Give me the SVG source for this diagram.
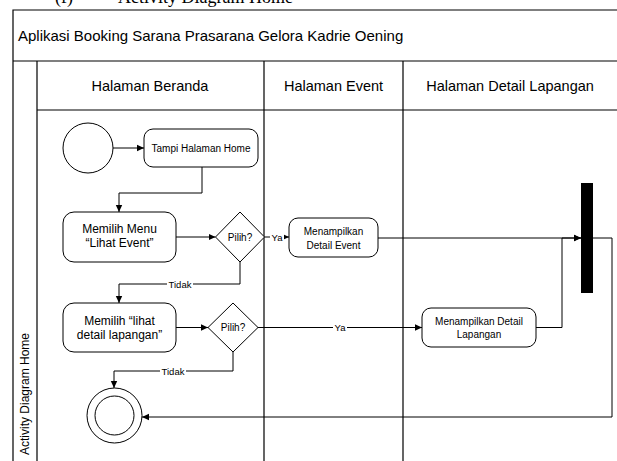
<svg xmlns="http://www.w3.org/2000/svg" width="617" height="461" viewBox="0 0 617 461">
<defs>
<marker id="arr" markerUnits="userSpaceOnUse" markerWidth="8" markerHeight="8" viewBox="0 0 8 8" refX="7" refY="4" orient="auto">
<path d="M0,0.8 L7,4 L0,7.2 Z" fill="#000"/>
</marker>
<style>
.frame{fill:none;stroke:#000;stroke-width:1.2}
.node{fill:#fff;stroke:#000;stroke-width:1}
.edge{fill:none;stroke:#000;stroke-width:1}
.t{font-family:"Liberation Sans",Arial,sans-serif;fill:#000;text-anchor:middle;dominant-baseline:central}
.s10{font-size:10px}
.s12{font-size:12px}
.s9{font-size:9.5px}
.hdr{font-size:14.5px}
.lbl{fill:#fff;stroke:none}
</style>
</defs>
<rect width="617" height="461" fill="#fff"/>
<text x="55" y="3" style="font-family:'Liberation Serif','Times New Roman',serif;font-size:18px">(f)<tspan x="118">Activity Diagram Home</tspan></text>
<g id="pool">
<path class="frame" d="M13,461 V10 H620 M13,61 H620 M37,61 V461 M37,110 H620 M264,61 V461 M403,61 V461"/>
<text class="t" x="18" y="35" style="font-size:15px;text-anchor:start">Aplikasi Booking Sarana Prasarana Gelora Kadrie Oening</text>
<text class="t hdr" x="150" y="86">Halaman Beranda</text>
<text class="t hdr" x="333.5" y="86">Halaman Event</text>
<text class="t hdr" x="510" y="86">Halaman Detail Lapangan</text>
<text style="font-family:'Liberation Sans',Arial,sans-serif;font-size:12px;text-anchor:end" transform="translate(29,333) rotate(-90)">Activity Diagram Home</text>
</g>
<g id="connectors">
<path class="edge" marker-end="url(#arr)" d="M113,148 H144"/>
<path class="edge" marker-end="url(#arr)" d="M202,167 V193 H119 V212"/>
<path class="edge" marker-end="url(#arr)" d="M176,237 H215.5"/>
<path class="edge" marker-end="url(#arr)" d="M264.5,237 H289"/>
<path class="edge" marker-end="url(#arr)" d="M240,262 V284 H119 V303"/>
<path class="edge" marker-end="url(#arr)" d="M176,327.5 H208"/>
<path class="edge" marker-end="url(#arr)" d="M258,327.5 H422"/>
<path class="edge" marker-end="url(#arr)" d="M233,352 V371 H114 V388"/>
<path class="edge" marker-end="url(#arr)" d="M378,238 H581"/>
<path class="edge" marker-end="url(#arr)" d="M536,327.5 H562 V238 H581"/>
<path class="edge" marker-end="url(#arr)" d="M593,238 H612 V417 H142"/>
<rect class="lbl" x="270" y="231" width="14" height="12"/>
<text class="t s9" x="277" y="237">Ya</text>
<rect class="lbl" x="167" y="278" width="26" height="12"/>
<text class="t s9" x="180" y="284">Tidak</text>
<rect class="lbl" x="333" y="321.5" width="14" height="12"/>
<text class="t s9" x="340" y="327.5">Ya</text>
<rect class="lbl" x="160" y="365" width="26" height="12"/>
<text class="t s9" x="173" y="371">Tidak</text>
</g>
<g id="start">
<circle class="node" cx="88" cy="148" r="25"/>
</g>
<g id="tampi-home">
<rect class="node" x="144" y="129" width="114" height="38" rx="9"/>
<text class="t s10" x="201" y="148">Tampi Halaman Home</text>
</g>
<g id="memilih-event">
<rect class="node" x="63" y="212" width="113" height="50" rx="11"/>
<text class="t s12" x="119.5" y="229">Memilih Menu</text>
<text class="t s12" x="119.5" y="243">“Lihat Event”</text>
</g>
<g id="decision1">
<polygon class="node" points="240,212 264.5,237 240,262 215.5,237"/>
<text class="t s10" x="240" y="237">Pilih?</text>
</g>
<g id="detail-event">
<rect class="node" x="289" y="218" width="89" height="39" rx="9"/>
<text class="t s10" x="333.5" y="231">Menampilkan</text>
<text class="t s10" x="333.5" y="245">Detail Event</text>
</g>
<g id="memilih-lapangan">
<rect class="node" x="63" y="303" width="113" height="49" rx="11"/>
<text class="t s12" x="119.5" y="321">Memilih “lihat</text>
<text class="t s12" x="119.5" y="335">detail lapangan”</text>
</g>
<g id="decision2">
<polygon class="node" points="233,303 258,327.5 233,352 208,327.5"/>
<text class="t s10" x="233" y="327.5">Pilih?</text>
</g>
<g id="detail-lapangan">
<rect class="node" x="422" y="308" width="114" height="39" rx="9"/>
<text class="t s10" x="479" y="321">Menampilkan Detail</text>
<text class="t s10" x="479" y="334">Lapangan</text>
</g>
<g id="join-bar">
<rect x="581" y="183" width="12" height="110" fill="#000"/>
</g>
<g id="final">
<circle class="node" cx="114.5" cy="415.5" r="27.5"/>
<circle class="node" cx="114.5" cy="415.5" r="19.5"/>
</g>
</svg>
